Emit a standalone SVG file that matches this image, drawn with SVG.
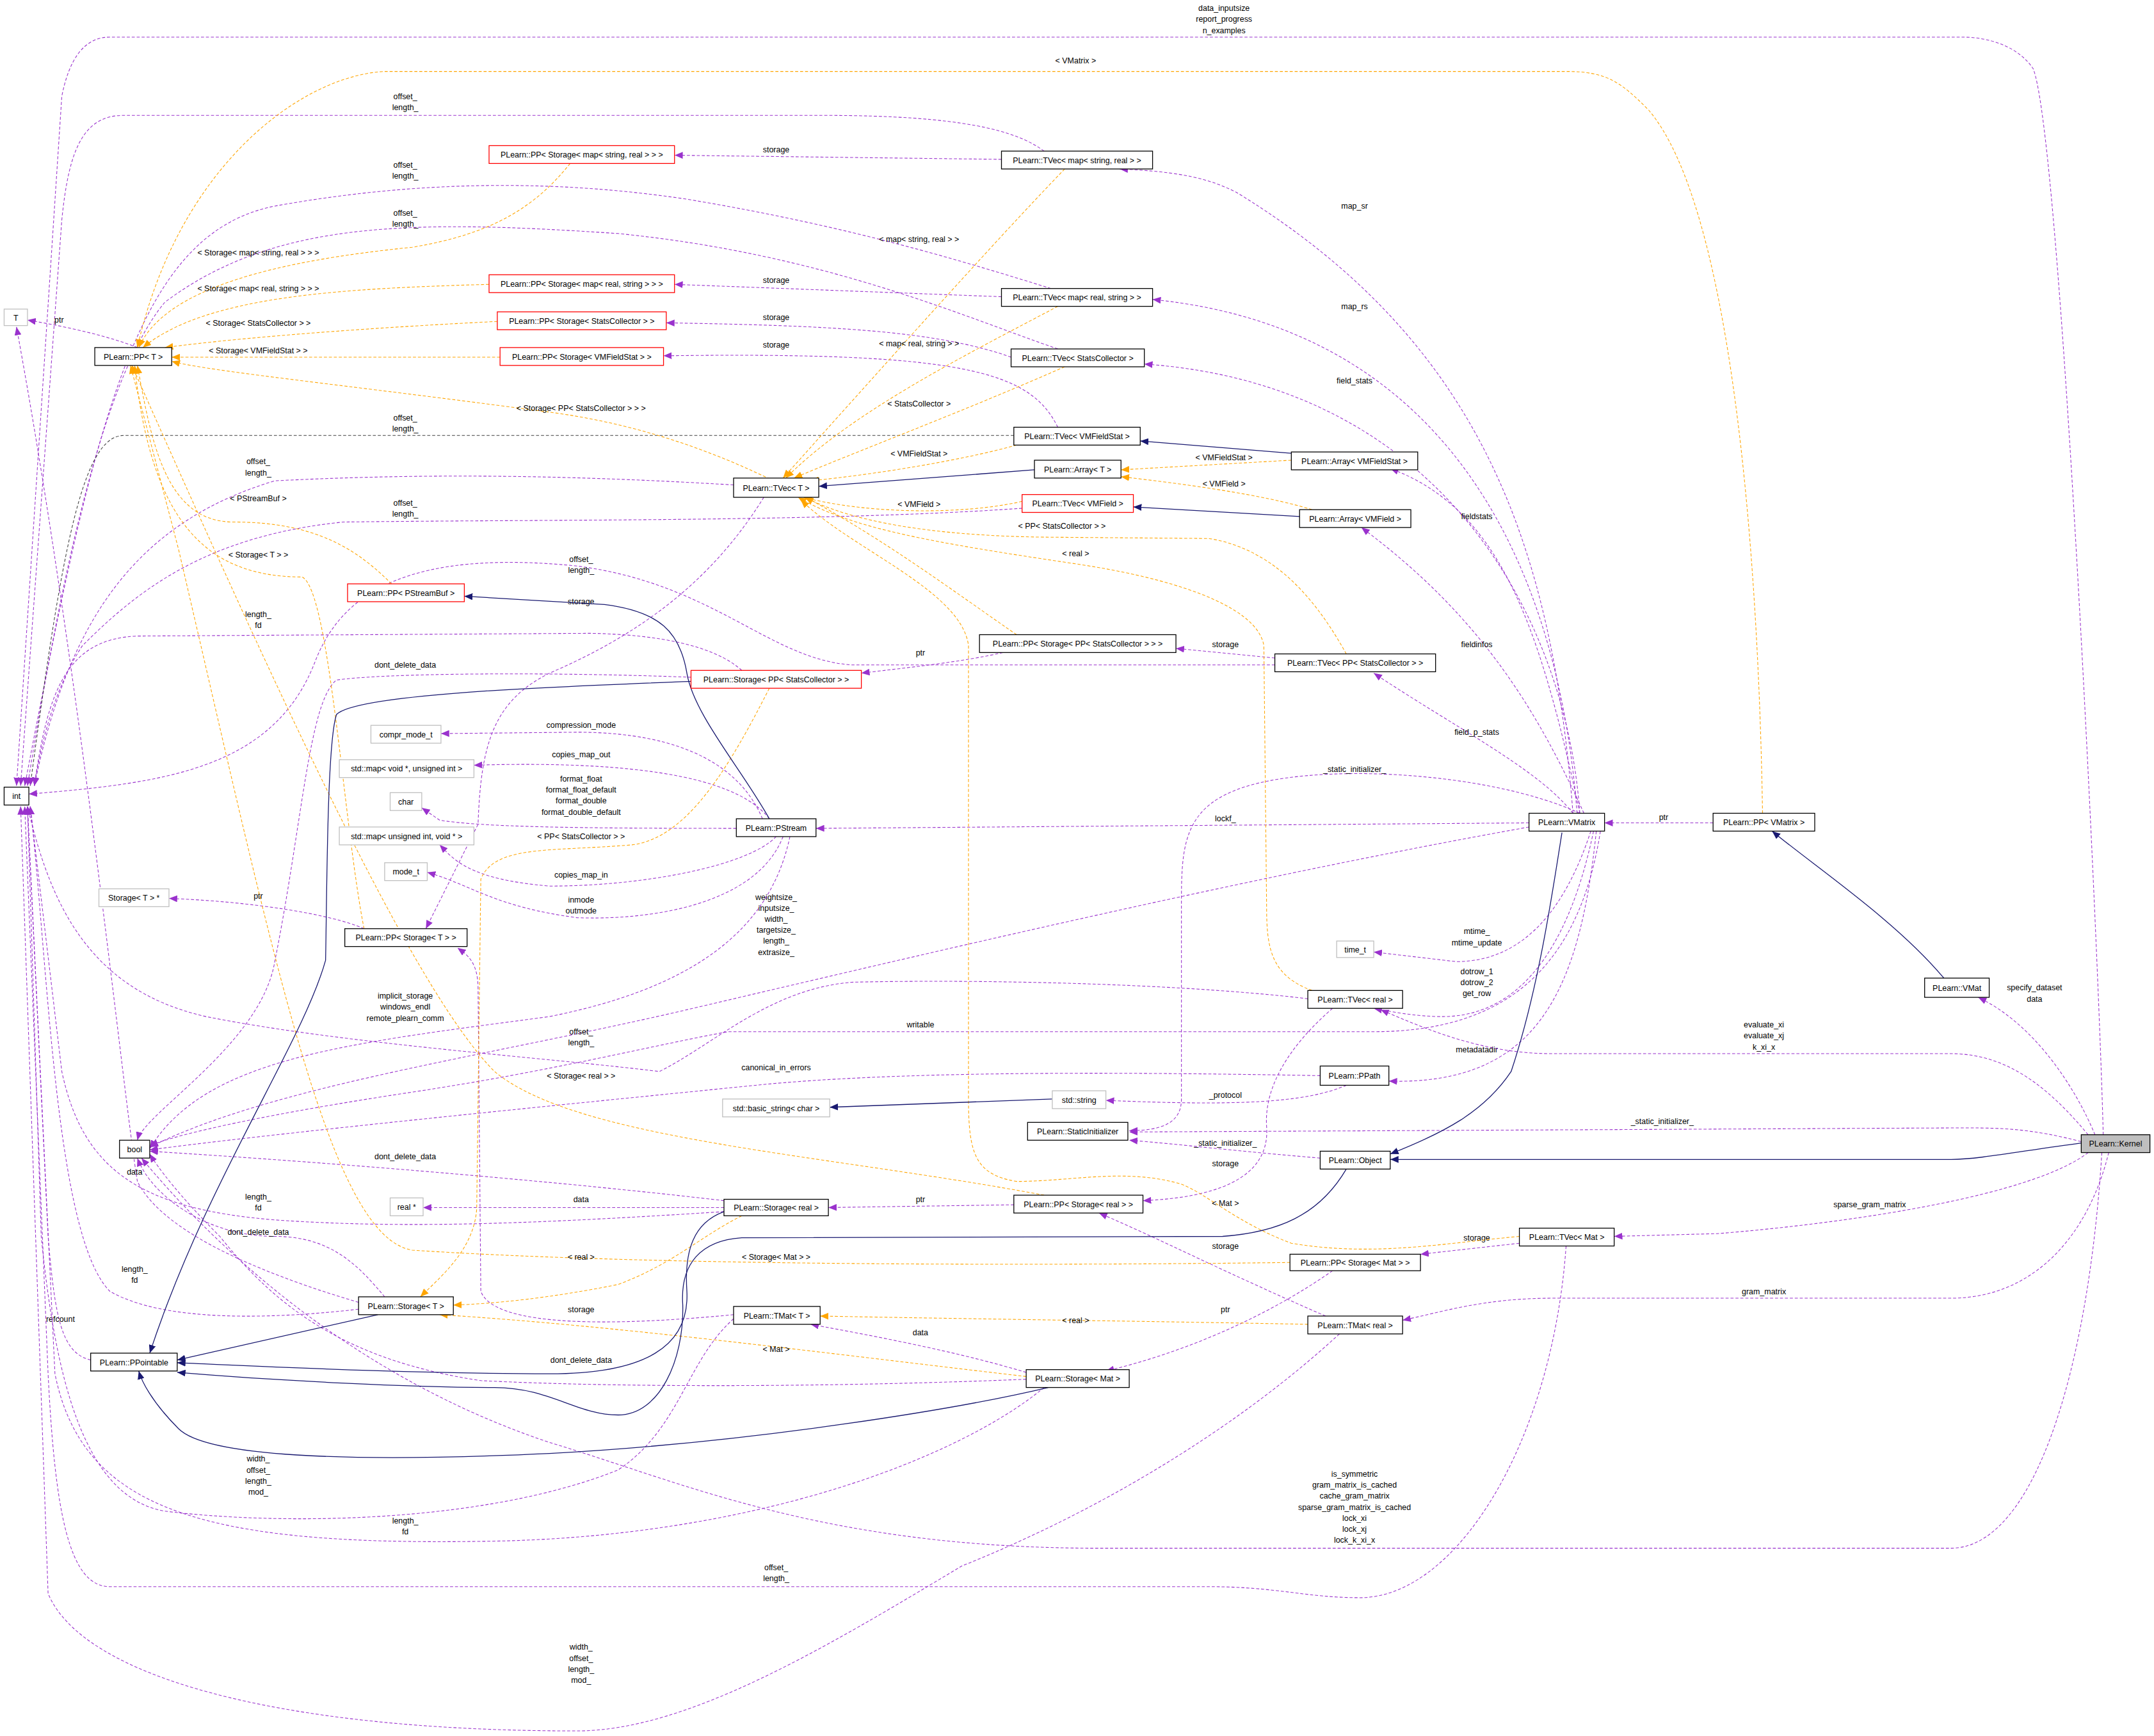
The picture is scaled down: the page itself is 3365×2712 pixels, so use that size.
<svg xmlns="http://www.w3.org/2000/svg" width="3365" height="2712" viewBox="0 0 3365 2712">
<style>
.bx{fill:#fff;stroke:#000;stroke-width:0.6}
.rd{fill:#fff;stroke:#f00;stroke-width:0.6}
.gy{fill:#fff;stroke:#bfbfbf;stroke-width:0.6}
.kn{fill:#bfbfbf;stroke:#000;stroke-width:0.6}
text{font-family:"Liberation Sans",Arial,sans-serif;font-size:5.8px;fill:#000;text-anchor:middle}
.u{fill:none;stroke:#9a32cd;stroke-width:0.5;stroke-dasharray:2.2,1.4;marker-end:url(#mu)}
.d{fill:none;stroke:#404040;stroke-width:0.5;stroke-dasharray:2.2,1.4;marker-end:url(#mu)}
.t{fill:none;stroke:#ffa500;stroke-width:0.5;stroke-dasharray:2.2,1.4;marker-end:url(#mt)}
.i{fill:none;stroke:#191970;stroke-width:0.6;marker-end:url(#mi)}
</style>
<defs>
<marker id="mu" markerUnits="userSpaceOnUse" markerWidth="6" markerHeight="5" refX="6" refY="2.5" orient="auto"><path d="M0,0L6,2.5L0,5z" fill="#9a32cd"/></marker>
<marker id="mt" markerUnits="userSpaceOnUse" markerWidth="6" markerHeight="5" refX="6" refY="2.5" orient="auto"><path d="M0,0L6,2.5L0,5z" fill="#ffa500"/></marker>
<marker id="mi" markerUnits="userSpaceOnUse" markerWidth="6" markerHeight="5" refX="6" refY="2.5" orient="auto"><path d="M0,0L6,2.5L0,5z" fill="#191970"/></marker>
</defs>
<rect width="3365" height="2712" fill="#fff"/>
<g transform="scale(2.1461)">
<g id="connectors">
<path class="u" d="M1531,826 C1528,700 1500,100 1480,50 C1470,35 1450,27 1428,27 L80,27 C60,27 50,45 45,70 L12,572"/>
<text x="891" y="8">data_inputsize</text><text x="891" y="16">report_progress</text><text x="891" y="24">n_examples</text>
<path class="u" d="M760,110 C740,95 700,84 600,84 L90,84 C60,84 50,110 45,160 L15,572"/>
<text x="295" y="72">offset_</text><text x="295" y="80">length_</text>
<path class="u" d="M729,116 L491,113"/><text x="565" y="111">storage</text>
<path class="u" d="M1145,592 C1130,400 1080,250 900,140 C880,130 860,125 815,123"/><text x="986" y="152">map_sr</text>
<path class="u" d="M765,210 C700,190 620,165 500,145 C400,130 300,132 200,150 C100,170 70,300 18,572"/>
<text x="295" y="122">offset_</text><text x="295" y="130">length_</text>
<path class="u" d="M729,216 L491,207"/><text x="565" y="206">storage</text>
<path class="u" d="M1148,592 C1135,420 1060,240 839,218"/><text x="986" y="225">map_rs</text>
<path class="u" d="M770,254 C700,230 600,185 450,170 C300,160 200,160 120,220 C70,280 40,450 20,572"/>
<text x="295" y="157">offset_</text><text x="295" y="165">length_</text>
<path class="u" d="M736,260 C680,240 600,237 485,235"/><text x="565" y="233">storage</text>
<path class="u" d="M1150,592 C1140,450 1050,280 833,265"/><text x="986" y="279">field_stats</text>
<path class="u" d="M770,311 C750,270 700,256 483,259"/><text x="565" y="253">storage</text>
<path class="d" d="M738,317 L90,317 C60,317 45,400 22,572"/>
<text x="295" y="306">offset_</text><text x="295" y="314">length_</text>
<path class="u" d="M534,353 C400,345 300,345 200,350 C100,380 50,450 25,572"/>
<text x="188" y="338">offset_</text><text x="188" y="346">length_</text>
<path class="u" d="M744,370 C600,380 400,378 250,380 C150,390 100,430 60,470 C40,500 30,540 25,572"/>
<text x="295" y="368">offset_</text><text x="295" y="376">length_</text>
<path class="u" d="M1150,592 C1120,450 1090,370 1012,341"/><text x="1075" y="378">fieldstats</text>
<path class="u" d="M1153,592 C1120,520 1080,450 991,384"/><text x="1075" y="471">fieldinfos</text>
<path class="u" d="M928,484 L620,484 C560,480 520,425 420,412 C300,400 250,430 230,480 C200,560 120,570 21,578"/>
<text x="423" y="409">offset_</text><text x="423" y="417">length_</text>
<path class="u" d="M928,479 L856,472"/><text x="892" y="471">storage</text>
<path class="u" d="M730,475 C700,482 660,486 627,490"/><text x="670" y="477">ptr</text>
<path class="u" d="M540,488 C520,470 480,462 430,461 L100,463 C50,465 35,500 25,572"/>
<text x="188" y="449">length_</text><text x="188" y="457">fd</text>
<path class="u" d="M503,493 C400,489 280,490 245,495 C225,510 220,600 200,700 C190,760 105,810 100,830"/>
<text x="295" y="486">dont_delete_data</text>
<path class="u" d="M1145,592 C1120,560 1060,530 1000,490"/><text x="1075" y="535">field_p_stats</text>
<path class="u" d="M555,596 C540,560 500,533 420,533 L321,534"/><text x="423" y="530">compression_mode</text>
<path class="u" d="M560,596 C540,570 480,553 345,557"/><text x="423" y="551">copies_map_out</text>
<path class="u" d="M536,603 C420,603 350,602 320,597 L307,588"/>
<text x="423" y="569">format_float</text><text x="423" y="577">format_float_default</text><text x="423" y="585">format_double</text><text x="423" y="593">format_double_default</text>
<path class="u" d="M565,609 C545,630 470,645 400,645 C340,640 330,625 320,615"/><text x="423" y="639">copies_map_in</text>
<path class="u" d="M570,609 C550,660 470,670 420,668 C360,660 345,645 311,635"/><text x="423" y="657">inmode</text><text x="423" y="665">outmode</text>
<path class="u" d="M1113,599 L594,603"/><text x="892" y="598">lockf_</text>
<path class="u" d="M1150,592 C1080,560 950,555 900,575 C860,590 860,620 860,660 L860,800 C860,818 845,823 822,823"/><text x="986" y="562">_static_initializer_</text>
<path class="u" d="M1113,602 C900,640 650,700 500,735 C350,770 200,790 109,835"/>
<text x="565" y="655">weightsize_</text><text x="565" y="663">inputsize_</text><text x="565" y="671">width_</text><text x="565" y="679">targetsize_</text><text x="565" y="687">length_</text><text x="565" y="695">extrasize_</text>
<path class="u" d="M1158,605 C1140,660 1110,700 1060,700 L1000,693"/><text x="1075" y="680">mtime_</text><text x="1075" y="688">mtime_update</text>
<path class="u" d="M1160,605 C1140,700 1100,740 1050,740 C1030,740 1010,736 1000,734"/><text x="1075" y="709">dotrow_1</text><text x="1075" y="717">dotrow_2</text><text x="1075" y="725">get_row</text>
<path class="u" d="M1162,605 C1150,720 1120,790 1011,787"/><text x="1075" y="766">metadatadir</text>
<path class="u" d="M1247,599 L1168,599"/><text x="1211" y="597">ptr</text>
<path class="u" d="M265,676 C240,665 180,656 123,654"/><text x="188" y="654">ptr</text>
<path class="u" d="M575,609 C560,680 500,720 400,740 C250,760 150,770 109,836"/>
<text x="295" y="727">implicit_storage</text><text x="295" y="735">windows_endl</text><text x="295" y="743">remote_plearn_comm</text>
<path class="u" d="M952,727 C850,715 700,713 620,715 C560,720 520,760 480,780 C400,770 250,760 150,740 C60,720 35,650 20,587"/>
<text x="423" y="753">offset_</text><text x="423" y="761">length_</text>
<path class="u" d="M1165,605 C1150,700 1100,751 1000,751 L530,751 C480,760 400,780 300,795 C200,810 130,825 109,834"/><text x="670" y="748">writable</text>
<path class="u" d="M1520,826 C1490,790 1460,767 1420,767 L1130,767 C1080,767 1040,750 1005,735"/>
<text x="1284" y="748">evaluate_xi</text><text x="1284" y="756">evaluate_xj</text><text x="1284" y="764">k_xi_x</text>
<path class="u" d="M961,783 C800,780 650,780 550,790 C400,805 200,825 109,837"/><text x="565" y="779">canonical_in_errors</text>
<path class="u" d="M980,790 C950,803 900,805 805,801"/><text x="892" y="799">_protocol</text>
<path class="u" d="M1515,831 C1480,822 1460,821 1430,821 L822,824"/><text x="1210" y="818">_static_initializer_</text>
<path class="u" d="M961,843 C900,838 860,833 822,830"/><text x="892" y="834">_static_initializer_</text>
<path class="u" d="M970,734 C940,760 920,790 922,820 C925,860 880,872 832,874"/><text x="892" y="849">storage</text>
<path class="u" d="M527,874 C450,865 300,850 109,838"/><text x="295" y="844">dont_delete_data</text>
<path class="u" d="M527,879 L308,879"/><text x="423" y="875">data</text>
<path class="u" d="M527,882 C400,890 300,895 200,888 C100,880 60,850 45,780 L22,587"/><text x="188" y="873">length_</text><text x="188" y="881">fd</text>
<path class="u" d="M738,877 L603,879"/><text x="670" y="875">ptr</text>
<path class="u" d="M1520,839 C1480,870 1350,890 1250,898 L1175,900"/><text x="1361" y="879">sparse_gram_matrix</text>
<path class="u" d="M1106,905 L1034,913"/><text x="1075" y="903">storage</text>
<path class="u" d="M261,948 C200,930 120,900 100,860 C90,800 60,500 12,238"/><text x="98" y="855">data</text>
<path class="u" d="M280,944 C260,920 240,900 200,900 C150,900 110,870 100,843"/><text x="188" y="899">dont_delete_data</text>
<path class="u" d="M261,953 C200,960 120,963 80,940 C40,900 35,700 22,587"/><text x="98" y="926">length_</text><text x="98" y="934">fd</text>
<path class="u" d="M66,990 C45,985 40,960 35,900 L20,587"/><text x="44" y="962">refcount</text>
<path class="u" d="M1535,839 C1520,900 1480,945 1420,945 L1130,945 C1080,945 1050,955 1021,961"/><text x="1284" y="942">gram_matrix</text>
<path class="u" d="M970,925 C920,960 860,985 805,998"/><text x="892" y="955">ptr</text>
<path class="u" d="M965,958 C900,930 840,900 800,883"/><text x="892" y="909">storage</text>
<path class="u" d="M534,960 C500,990 495,1040 450,1070 C350,1110 200,1110 120,1100 C60,1090 40,1000 30,900 L20,587"/>
<text x="188" y="1064">width_</text><text x="188" y="1072">offset_</text><text x="188" y="1080">length_</text><text x="188" y="1088">mod_</text>
<path class="u" d="M747,999 C700,985 650,975 590,964"/><text x="670" y="972">data</text>
<path class="u" d="M747,1004 C600,1010 450,1010 350,1005 C250,990 200,950 160,900 C130,870 115,850 109,840"/><text x="423" y="992">dont_delete_data</text>
<path class="u" d="M760,1010 C700,1060 550,1120 350,1122 C150,1125 60,1100 40,1000 L20,587"/><text x="295" y="1109">length_</text><text x="295" y="1117">fd</text>
<path class="u" d="M1530,839 C1520,1000 1480,1127 1420,1127 L800,1127 C600,1127 500,1080 400,1050 C250,1000 150,900 103,843"/>
<text x="986" y="1075">is_symmetric</text><text x="986" y="1083">gram_matrix_is_cached</text><text x="986" y="1091">cache_gram_matrix</text><text x="986" y="1099">sparse_gram_matrix_is_cached</text><text x="986" y="1107">lock_xi</text><text x="986" y="1115">lock_xj</text><text x="986" y="1123">lock_k_xi_x</text>
<path class="u" d="M1140,907 C1130,1050 1060,1163 990,1163 C950,1163 930,1155 880,1155 L80,1155 C50,1155 40,1100 35,1000 L18,587"/>
<text x="565" y="1143">offset_</text><text x="565" y="1151">length_</text>
<path class="u" d="M975,971 C900,1040 800,1100 700,1140 C600,1200 500,1260 420,1260 C200,1260 60,1220 35,1160 L15,587"/>
<text x="423" y="1201">width_</text><text x="423" y="1209">offset_</text><text x="423" y="1217">length_</text><text x="423" y="1225">mod_</text>
<path class="u" d="M1525,826 C1510,790 1480,745 1440,726"/><text x="1481" y="721">specify_dataset</text><text x="1481" y="729">data</text>
<path class="u" d="M534,957 C450,965 360,967 350,940 L348,720 C348,700 340,695 333,690"/><text x="423" y="955">storage</text>
<path class="u" d="M556,362 C520,420 470,460 400,490 C360,510 350,540 348,600 L310,676"/><text x="423" y="440">storage</text>
<path class="u" d="M100,253 C80,245 50,238 20,233"/><text x="43" y="235">ptr</text>
<path class="t" d="M1283,592 C1280,400 1260,150 1200,80 C1180,60 1170,52 1140,52 L280,52 C220,55 130,120 100,253"/><text x="783" y="46">&lt; VMatrix &gt;</text>
<path class="t" d="M415,119 C390,150 360,170 300,180 C200,190 120,210 101,253"/><text x="188" y="186">&lt; Storage&lt; map&lt; string, real &gt; &gt; &gt;</text>
<path class="t" d="M356,207 C250,210 150,215 104,253"/><text x="188" y="212">&lt; Storage&lt; map&lt; real, string &gt; &gt; &gt;</text>
<path class="t" d="M362,234 C280,238 180,245 120,253"/><text x="188" y="237">&lt; Storage&lt; StatsCollector &gt; &gt;</text>
<path class="t" d="M364,260 L125,260"/><text x="188" y="257">&lt; Storage&lt; VMFieldStat &gt; &gt;</text>
<path class="t" d="M740,462 C650,400 550,320 400,300 C250,280 150,270 125,263"/><text x="423" y="299">&lt; Storage&lt; PP&lt; StatsCollector &gt; &gt; &gt;</text>
<path class="t" d="M285,425 C260,400 230,380 170,380 C120,380 110,320 100,266"/><text x="188" y="365">&lt; PStreamBuf &gt;</text>
<path class="t" d="M265,676 C250,600 240,430 220,420 C150,420 110,380 98,266"/><text x="188" y="406">&lt; Storage&lt; T &gt; &gt;</text>
<path class="t" d="M760,870 C600,840 420,830 360,780 C300,720 200,500 96,266"/><text x="423" y="785">&lt; Storage&lt; real &gt; &gt;</text>
<path class="t" d="M939,919 C700,922 450,920 300,910 C240,900 200,700 130,400 L95,266"/><text x="565" y="917">&lt; Storage&lt; Mat &gt; &gt;</text>
<path class="t" d="M775,123 C720,180 640,270 570,348"/><text x="669" y="176">&lt; map&lt; string, real &gt; &gt;</text>
<path class="t" d="M770,223 C700,260 620,300 572,348"/><text x="669" y="252">&lt; map&lt; real, string &gt; &gt;</text>
<path class="t" d="M775,267 C700,300 620,330 578,348"/><text x="669" y="296">&lt; StatsCollector &gt;</text>
<path class="t" d="M740,324 C700,335 640,345 590,350"/><text x="669" y="332">&lt; VMFieldStat &gt;</text>
<path class="t" d="M744,365 C700,375 630,374 585,362"/><text x="669" y="369">&lt; VMField &gt;</text>
<path class="t" d="M980,476 C960,440 930,400 880,392 L760,391 C680,390 620,380 586,362"/><text x="773" y="385">&lt; PP&lt; StatsCollector &gt; &gt;</text>
<path class="t" d="M955,721 C925,710 922,690 922,660 L920,470 C915,440 850,420 780,410 C680,395 620,385 581,362"/><text x="783" y="405">&lt; real &gt;</text>
<path class="t" d="M1106,900 C1050,905 1000,915 940,905 C900,890 880,870 860,862 C820,850 780,860 740,860 C710,855 705,840 705,800 L705,470 C700,430 620,400 583,364"/><text x="892" y="878">&lt; Mat &gt;</text>
<path class="t" d="M940,335 L816,342"/><text x="891" y="335">&lt; VMFieldStat &gt;</text>
<path class="t" d="M955,371 C920,360 860,352 816,347"/><text x="891" y="354">&lt; VMField &gt;</text>
<path class="t" d="M560,501 C530,560 500,610 460,615 C400,620 360,615 350,640 L347,880 C345,910 320,930 306,944"/><text x="423" y="611">&lt; PP&lt; StatsCollector &gt; &gt;</text>
<path class="t" d="M540,885 C510,900 490,920 450,935 C400,945 360,949 330,950"/><text x="423" y="917">&lt; real &gt;</text>
<path class="t" d="M747,1002 C600,985 450,965 320,957"/><text x="565" y="984">&lt; Mat &gt;</text>
<path class="t" d="M952,964 C850,962 700,960 597,958"/><text x="783" y="963">&lt; real &gt;</text>
<path class="i" d="M940,330 L830,321"/>
<path class="i" d="M753,342 L596,354"/>
<path class="i" d="M946,376 L825,369"/>
<path class="i" d="M560,596 C540,560 505,520 500,490 C495,460 480,445 440,440 L338,434"/>
<path class="i" d="M503,496 C400,500 260,505 245,520 C238,540 238,650 237,699 C220,760 150,860 109,985"/>
<path class="i" d="M1137,606 C1130,650 1120,720 1100,780 C1080,810 1050,825 1012,840"/>
<path class="i" d="M1415,712 C1380,670 1320,630 1290,605"/>
<path class="i" d="M766,800 L604,806"/>
<path class="i" d="M1515,832 C1470,838 1440,844 1420,844 L1012,844"/>
<path class="i" d="M980,851 C960,885 930,897 890,900 L540,901 C510,903 495,920 497,950 C498,990 480,1030 450,1030 C420,1030 400,1010 360,1010 C300,1010 200,1005 129,999"/>
<path class="i" d="M527,882 C505,890 498,910 500,940 C502,980 470,1000 400,1000 C300,1000 200,995 129,992"/>
<path class="i" d="M275,957 L129,990"/>
<path class="i" d="M763,1010 C700,1025 550,1050 400,1058 C250,1065 150,1060 130,1040 C110,1020 103,1005 101,998"/>
</g>
<g id="n_T"><rect class="gy" x="3" y="225" width="17" height="12"/><text x="11.5" y="233.5">T</text></g>
<g id="n_PPT"><rect class="bx" x="69" y="253" width="56" height="13"/><text x="97" y="261.7">PLearn::PP&lt; T &gt;</text></g>
<g id="n_int"><rect class="bx" x="3" y="573" width="18" height="13"/><text x="12" y="581.7">int</text></g>
<g id="n_bool"><rect class="bx" x="87" y="830" width="22" height="13"/><text x="98" y="838.7">bool</text></g>
<g id="n_PPointable"><rect class="bx" x="66" y="985" width="63" height="13"/><text x="97.5" y="993.7">PLearn::PPointable</text></g>
<g id="n_PPSmsr"><rect class="rd" x="356" y="106" width="135" height="13"/><text x="423.5" y="114.7">PLearn::PP&lt; Storage&lt; map&lt; string, real &gt; &gt; &gt;</text></g>
<g id="n_TVmsr"><rect class="bx" x="729" y="110" width="110" height="13"/><text x="784" y="118.7">PLearn::TVec&lt; map&lt; string, real &gt; &gt;</text></g>
<g id="n_PPSmrs"><rect class="rd" x="356" y="200" width="135" height="13"/><text x="423.5" y="208.7">PLearn::PP&lt; Storage&lt; map&lt; real, string &gt; &gt; &gt;</text></g>
<g id="n_TVmrs"><rect class="bx" x="729" y="210" width="110" height="13"/><text x="784" y="218.7">PLearn::TVec&lt; map&lt; real, string &gt; &gt;</text></g>
<g id="n_PPSSC"><rect class="rd" x="362" y="227" width="123" height="13"/><text x="423.5" y="235.7">PLearn::PP&lt; Storage&lt; StatsCollector &gt; &gt;</text></g>
<g id="n_TVSC"><rect class="bx" x="736" y="254" width="97" height="13"/><text x="784.5" y="262.7">PLearn::TVec&lt; StatsCollector &gt;</text></g>
<g id="n_PPSVMFS"><rect class="rd" x="364" y="253" width="119" height="13"/><text x="423.5" y="261.7">PLearn::PP&lt; Storage&lt; VMFieldStat &gt; &gt;</text></g>
<g id="n_TVVMFS"><rect class="bx" x="738" y="311" width="92" height="13"/><text x="784" y="319.7">PLearn::TVec&lt; VMFieldStat &gt;</text></g>
<g id="n_ArrT"><rect class="bx" x="753" y="335" width="63" height="13"/><text x="784.5" y="343.7">PLearn::Array&lt; T &gt;</text></g>
<g id="n_TVT"><rect class="bx" x="534" y="348" width="62" height="14"/><text x="565" y="357.2">PLearn::TVec&lt; T &gt;</text></g>
<g id="n_TVVMF"><rect class="rd" x="744" y="360" width="81" height="13"/><text x="784.5" y="368.7">PLearn::TVec&lt; VMField &gt;</text></g>
<g id="n_ArrVMFS"><rect class="bx" x="940" y="329" width="92" height="13"/><text x="986" y="337.7">PLearn::Array&lt; VMFieldStat &gt;</text></g>
<g id="n_ArrVMF"><rect class="bx" x="946" y="371" width="81" height="13"/><text x="986.5" y="379.7">PLearn::Array&lt; VMField &gt;</text></g>
<g id="n_PPPSB"><rect class="rd" x="253" y="425" width="85" height="13"/><text x="295.5" y="433.7">PLearn::PP&lt; PStreamBuf &gt;</text></g>
<g id="n_PPSPPSC"><rect class="bx" x="713" y="462" width="143" height="13"/><text x="784.5" y="470.7">PLearn::PP&lt; Storage&lt; PP&lt; StatsCollector &gt; &gt; &gt;</text></g>
<g id="n_TVPPSC"><rect class="bx" x="928" y="476" width="117" height="13"/><text x="986.5" y="484.7">PLearn::TVec&lt; PP&lt; StatsCollector &gt; &gt;</text></g>
<g id="n_StPPSC"><rect class="rd" x="503" y="488" width="124" height="13"/><text x="565" y="496.7">PLearn::Storage&lt; PP&lt; StatsCollector &gt; &gt;</text></g>
<g id="n_compr"><rect class="gy" x="270" y="528" width="51" height="13"/><text x="295.5" y="536.7">compr_mode_t</text></g>
<g id="n_map1"><rect class="gy" x="247" y="553" width="98" height="13"/><text x="296" y="561.7">std::map&lt; void *, unsigned int &gt;</text></g>
<g id="n_char"><rect class="gy" x="284" y="577" width="23" height="13"/><text x="295.5" y="585.7">char</text></g>
<g id="n_PStream"><rect class="bx" x="536" y="596" width="58" height="13"/><text x="565" y="604.7">PLearn::PStream</text></g>
<g id="n_map2"><rect class="gy" x="247" y="602" width="98" height="13"/><text x="296" y="610.7">std::map&lt; unsigned int, void * &gt;</text></g>
<g id="n_mode"><rect class="gy" x="280" y="628" width="31" height="13"/><text x="295.5" y="636.7">mode_t</text></g>
<g id="n_StTp"><rect class="gy" x="72" y="647" width="51" height="13"/><text x="97.5" y="655.7">Storage&lt; T &gt; *</text></g>
<g id="n_PPST"><rect class="bx" x="251" y="676" width="89" height="13"/><text x="295.5" y="684.7">PLearn::PP&lt; Storage&lt; T &gt; &gt;</text></g>
<g id="n_VMatrix"><rect class="bx" x="1113" y="592" width="55" height="13"/><text x="1140.5" y="600.7">PLearn::VMatrix</text></g>
<g id="n_PPVM"><rect class="bx" x="1247" y="592" width="74" height="13"/><text x="1284" y="600.7">PLearn::PP&lt; VMatrix &gt;</text></g>
<g id="n_time"><rect class="gy" x="973" y="685" width="27" height="12"/><text x="986.5" y="693.2">time_t</text></g>
<g id="n_TVreal"><rect class="bx" x="952" y="721" width="69" height="13"/><text x="986.5" y="729.7">PLearn::TVec&lt; real &gt;</text></g>
<g id="n_VMat"><rect class="bx" x="1401" y="712" width="47" height="14"/><text x="1424.5" y="721.2">PLearn::VMat</text></g>
<g id="n_PPath"><rect class="bx" x="961" y="776" width="50" height="14"/><text x="986" y="785.2">PLearn::PPath</text></g>
<g id="n_string"><rect class="gy" x="766" y="794" width="39" height="13"/><text x="785.5" y="802.7">std::string</text></g>
<g id="n_bstr"><rect class="gy" x="526" y="800" width="78" height="13"/><text x="565" y="808.7">std::basic_string&lt; char &gt;</text></g>
<g id="n_SI"><rect class="bx" x="748" y="817" width="73" height="13"/><text x="784.5" y="825.7">PLearn::StaticInitializer</text></g>
<g id="n_Object"><rect class="bx" x="961" y="838" width="51" height="13"/><text x="986.5" y="846.7">PLearn::Object</text></g>
<g id="n_Kernel"><rect class="kn" x="1515" y="826" width="50" height="13"/><text x="1540" y="834.7">PLearn::Kernel</text></g>
<g id="n_realp"><rect class="gy" x="284" y="872" width="24" height="13"/><text x="296" y="880.7">real *</text></g>
<g id="n_StReal"><rect class="bx" x="527" y="873" width="76" height="12"/><text x="565" y="881.2">PLearn::Storage&lt; real &gt;</text></g>
<g id="n_PPSReal"><rect class="bx" x="738" y="870" width="94" height="13"/><text x="785" y="878.7">PLearn::PP&lt; Storage&lt; real &gt; &gt;</text></g>
<g id="n_TVMat"><rect class="bx" x="1106" y="894" width="69" height="13"/><text x="1140.5" y="902.7">PLearn::TVec&lt; Mat &gt;</text></g>
<g id="n_PPSMat"><rect class="bx" x="939" y="913" width="95" height="12"/><text x="986.5" y="921.2">PLearn::PP&lt; Storage&lt; Mat &gt; &gt;</text></g>
<g id="n_StT"><rect class="bx" x="261" y="944" width="69" height="13"/><text x="295.5" y="952.7">PLearn::Storage&lt; T &gt;</text></g>
<g id="n_TMatT"><rect class="bx" x="534" y="951" width="63" height="13"/><text x="565.5" y="959.7">PLearn::TMat&lt; T &gt;</text></g>
<g id="n_TMatReal"><rect class="bx" x="952" y="958" width="69" height="13"/><text x="986.5" y="966.7">PLearn::TMat&lt; real &gt;</text></g>
<g id="n_StMat"><rect class="bx" x="747" y="997" width="75" height="13"/><text x="784.5" y="1005.7">PLearn::Storage&lt; Mat &gt;</text></g>
</g>
</svg>
